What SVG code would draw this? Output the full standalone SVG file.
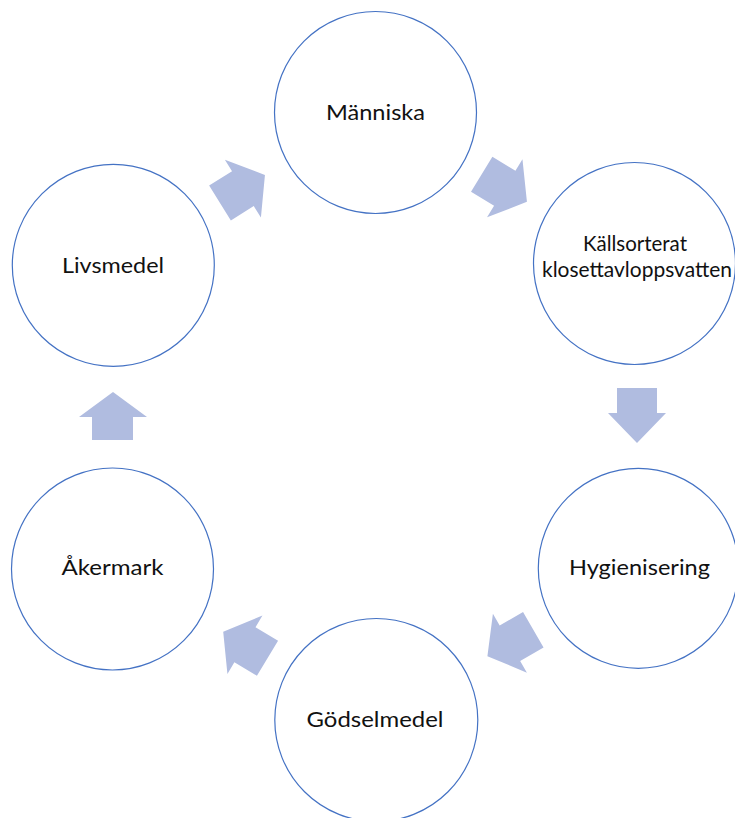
<svg xmlns="http://www.w3.org/2000/svg" xmlns:xlink="http://www.w3.org/1999/xlink" width="735" height="818" viewBox="0 0 735 818">
<style>
.node{fill:#ffffff;stroke:#4472C4;stroke-width:1.2}
.lbl{font-family:Lato,"Open Sans","Liberation Sans",sans-serif;font-size:22px;fill:#111111;text-anchor:middle}
.lbl2{font-family:Lato,"Open Sans","Liberation Sans",sans-serif;font-size:21px;fill:#111111;text-anchor:middle}
.arr{fill:#B0BCE0}
</style>
<defs>
<polygon id="arrow" points="0,-20.5 27,-20.5 27,-34 53,0 27,34 27,20.5 0,20.5"/>
</defs>
<rect width="735" height="818" fill="#ffffff"/>
<g id="connectors">
<use xlink:href="#arrow" class="arr" transform="translate(220,203) rotate(-32)"/>
<use xlink:href="#arrow" class="arr" transform="translate(481.7,174.2) rotate(31.4)"/>
<polygon class="arr" points="617,388 657,388 657,413 666,413 637,443 608,413 617,413"/>
<use xlink:href="#arrow" class="arr" transform="translate(533.3,629.7) rotate(150)"/>
<use xlink:href="#arrow" class="arr" transform="translate(267.5,658.3) rotate(-149) scale(0.975,1)"/>
<polygon class="arr" points="92,440 92,417 79,417 113,392 147,417 133,417 133,440"/>
</g>
<g id="manniska">
<circle class="node" cx="375.5" cy="112.5" r="101"/>
<text class="lbl" x="375.5" y="120" textLength="99" lengthAdjust="spacingAndGlyphs">Människa</text>
</g>
<g id="kallsorterat">
<circle class="node" cx="634.5" cy="263.5" r="101"/>
<text class="lbl2" x="635" y="250.5" textLength="104" lengthAdjust="spacingAndGlyphs">Källsorterat</text>
<text class="lbl2" x="637" y="277" textLength="190" lengthAdjust="spacingAndGlyphs">klosettavloppsvatten</text>
</g>
<g id="hygienisering">
<circle class="node" cx="638.3" cy="568.3" r="100"/>
<text class="lbl" x="639.5" y="575" textLength="141" lengthAdjust="spacingAndGlyphs">Hygienisering</text>
</g>
<g id="godselmedel">
<circle class="node" cx="376.3" cy="720" r="101.5"/>
<text class="lbl" x="375" y="727" textLength="137" lengthAdjust="spacingAndGlyphs">Gödselmedel</text>
</g>
<g id="akermark">
<circle class="node" cx="112.5" cy="569" r="101"/>
<text class="lbl" x="112.5" y="575" textLength="102" lengthAdjust="spacingAndGlyphs">Åkermark</text>
</g>
<g id="livsmedel">
<circle class="node" cx="113.3" cy="265.3" r="101"/>
<text class="lbl" x="113" y="273" textLength="102" lengthAdjust="spacingAndGlyphs">Livsmedel</text>
</g>
</svg>
